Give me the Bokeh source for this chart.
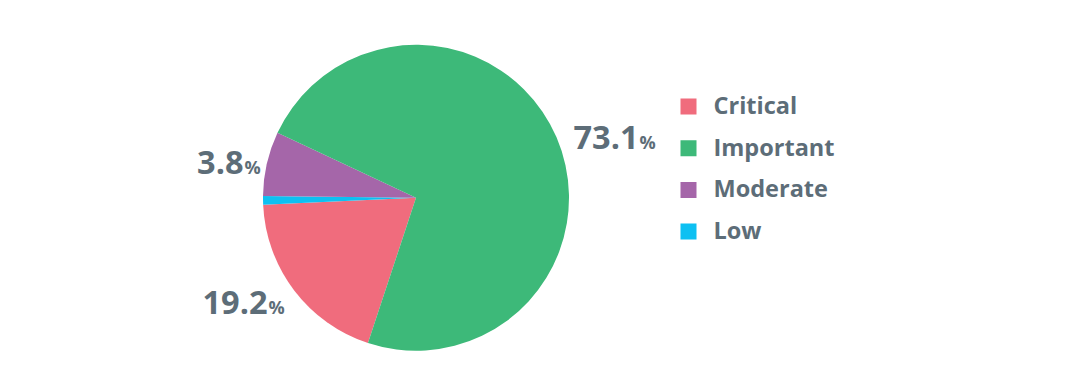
import math
from bokeh.plotting import figure
from bokeh.models import Range1d
from bokeh.core.properties import value
from bokeh.embed import file_html
from bokeh.resources import INLINE

# ---- data ----
categories = ["Critical", "Important", "Moderate", "Low"]
shares = [19.2, 73.1, 6.8, 0.9]            # slice sizes (percent) as drawn
label_texts = ["19.2", "73.1", "3.8", ""]  # printed labels
colors = ["#F06C7D", "#3DB979", "#A566A9", "#0DC0F2"]
pie_order = ["Critical", "Low", "Moderate", "Important"]  # clockwise drawing order

# ---- layout ----
W, H = 1080, 374
CX, CY_SCREEN, R = 415.5, 197.3, 153.0
ROTATION = 198.3  # degrees clockwise from 12 o'clock where first slice starts
TEXT = "#5D6D78"
FONT = value("Open Sans")

p = figure(width=W, height=H, output_backend="svg", toolbar_location=None,
           x_range=Range1d(0, W), y_range=Range1d(0, H),
           x_axis_location=None, y_axis_location=None, min_border=0,
           outline_line_color=None, background_fill_color="white",
           border_fill_color="white")
p.grid.visible = False

def sy(y):
    return H - y

# pie wedges
theta = ROTATION
for name in pie_order:
    i = categories.index(name)
    span = shares[i] / 100.0 * 360.0
    t0, t1 = theta, theta + span
    p.wedge(x=CX, y=sy(CY_SCREEN), radius=R,
            start_angle=math.radians(90 - t0), end_angle=math.radians(90 - t1),
            direction="clock", fill_color=colors[i], line_color=None)
    theta = t1

# outside labels: (split x, vertical centre y) in screen px, per category
label_pos = {"Important": (638, 137), "Moderate": (243, 162), "Critical": (267, 302)}
for name, (lx, ly) in label_pos.items():
    i = categories.index(name)
    p.text(x=[lx], y=[sy(ly)], text=[label_texts[i]], text_font=FONT,
           text_font_style="bold", text_font_size="32.5px", text_align="right",
           text_baseline="middle", text_color=TEXT)
    p.text(x=[lx + 1], y=[sy(ly + 4)], text=["%"], text_font=FONT,
           text_font_style="bold", text_font_size="18px", text_align="left",
           text_baseline="middle", text_color=TEXT)

# legend
leg_x, leg_y0, leg_dy = 688, 106, 41.7
ys = [sy(leg_y0 + k * leg_dy) for k in range(len(categories))]
p.scatter(x=[leg_x] * len(categories), y=ys, marker="square", size=16,
          fill_color=colors, line_color=None)
p.text(x=[713] * len(categories), y=[y + 1.5 for y in ys], text=categories,
       text_font=FONT, text_font_style="bold", text_font_size="23.5px",
       text_align="left", text_baseline="middle", text_color=TEXT)

open("out.html", "w").write(file_html(p, INLINE))
